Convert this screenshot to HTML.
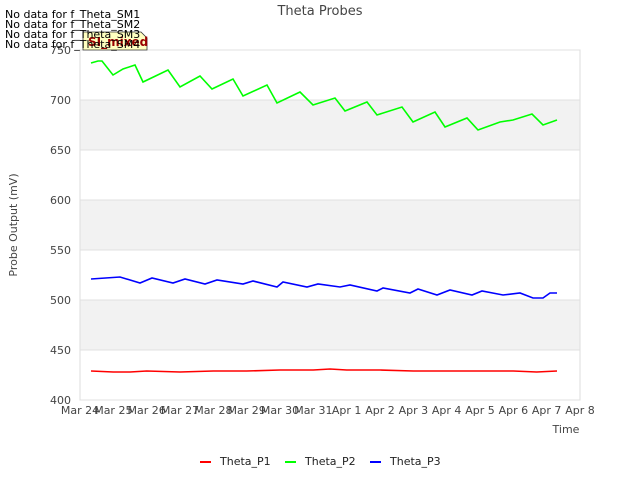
<!DOCTYPE html>
<html><head><meta charset="utf-8"><style>
body{margin:0;background:#fff;font-family:"DejaVu Sans","Liberation Sans",sans-serif;}
svg text{font-family:"DejaVu Sans","Liberation Sans",sans-serif;}
</style></head><body>
<svg id="chart" width="640" height="480" xmlns="http://www.w3.org/2000/svg">
<rect width="640" height="480" fill="#fff"/>
<g id="bands"></g>
<rect x="80" y="50" width="500" height="350" fill="none" stroke="#ddd"/>
<g id="yticks" font-size="11" fill="#444"></g>
<g id="xticks" font-size="11" fill="#444"></g>
<g id="series"></g>
<text x="320" y="15" text-anchor="middle" font-size="13" fill="#444">Theta Probes</text>
<text x="17" y="225" text-anchor="middle" font-size="11" fill="#444" transform="rotate(-90 17 225)">Probe Output (mV)</text>
<text x="566" y="433" text-anchor="middle" font-size="11" fill="#444">Time</text>
<path d="M83 32 H141 L147 38 V50 H83 Z" fill="#ffffc0" stroke="#333" stroke-width="0.8"/>
<text x="88" y="46" font-size="12" font-weight="bold" fill="#990000">SI_mixed</text>
<g font-size="11" fill="#000">
<text x="5" y="18">No data for f_Theta_SM1</text>
<text x="5" y="28">No data for f_Theta_SM2</text>
<text x="5" y="38">No data for f_Theta_SM3</text>
<text x="5" y="48">No data for f_Theta_SM4</text>
</g>
<g id="legend" font-size="11" fill="#222">
<g><line x1="200" y1="462" x2="211" y2="462" stroke="#f00" stroke-width="2"/><text x="220" y="465">Theta_P1</text></g>
<g><line x1="285" y1="462" x2="296" y2="462" stroke="#0f0" stroke-width="2"/><text x="305" y="465">Theta_P2</text></g>
<g><line x1="370" y1="462" x2="381" y2="462" stroke="#00f" stroke-width="2"/><text x="390" y="465">Theta_P3</text></g>
</g>
</svg>
<script>
const xLabels=["Mar 24","Mar 25","Mar 26","Mar 27","Mar 28","Mar 29","Mar 30","Mar 31","Apr 1","Apr 2","Apr 3","Apr 4","Apr 5","Apr 6","Apr 7","Apr 8"];
const yTicks=[400,450,500,550,600,650,700,750];
const p2Days=[0.33,0.54,0.66,0.99,1.29,1.65,1.89,2.64,3.0,3.6,3.96,4.59,4.89,5.61,5.91,6.6,6.99,7.65,7.95,8.61,8.91,9.66,9.99,10.65,10.95,11.61,11.94,12.6,12.99,13.56,13.89,14.31];
const p2Vals=[737,739,739,725,731,735,718,730,713,724,711,721,704,715,697,708,695,702,689,698,685,693,678,688,673,682,670,678,680,686,675,680];
const p3Days=[0.33,1.2,1.8,2.16,2.79,3.15,3.75,4.11,4.89,5.19,5.91,6.09,6.81,7.14,7.8,8.1,8.91,9.09,9.9,10.14,10.71,11.1,11.76,12.06,12.69,13.2,13.59,13.89,14.1,14.31];
const p3Vals=[521,523,517,522,517,521,516,520,516,519,513,518,513,516,513,515,509,512,507,511,505,510,505,509,505,507,502,502,507,507];
const p1Days=[0.33,1,1.5,2,3,4,5,6,7,7.5,8,9,10,11,12,13,13.7,14.31];
const p1Vals=[429,428,428,429,428,429,429,430,430,431,430,430,429,429,429,429,428,429];
const X0=80,X1=580,Y0=400,Y1=50,DMIN=0,DMAX=15,VMIN=400,VMAX=750;
const xs=d=>X0+(d-DMIN)/(DMAX-DMIN)*(X1-X0);
const ys=v=>Y0-(v-VMIN)/(VMAX-VMIN)*(Y0-Y1);
const NS="http://www.w3.org/2000/svg";
function mk(tag,attrs,parent){const e=document.createElementNS(NS,tag);for(const k in attrs)e.setAttribute(k,attrs[k]);parent.appendChild(e);return e;}
const bands=document.getElementById('bands');
[[450,500],[550,600],[650,700]].forEach(b=>{const r=mk('rect',{x:X0,y:ys(b[1]),width:X1-X0,height:ys(b[0])-ys(b[1]),fill:'#f2f2f2'},bands);

});
const yt=document.getElementById('yticks');
yTicks.forEach(v=>{const l=mk('line',{x1:X0,x2:X1,y1:ys(v),y2:ys(v),stroke:'#e0e0e0'},yt);


const t=mk('text',{x:X0-9,y:ys(v)+4,'text-anchor':'end'},yt);t.textContent=v;

});
const xt=document.getElementById('xticks');
xLabels.forEach((s,i)=>{const t=mk('text',{x:xs(i),y:414,'text-anchor':'middle'},xt);t.textContent=s;

});
const sg=document.getElementById('series');
function line(days,vals,color,name){const d=days.map((dd,i)=>(i?'L':'M')+xs(dd).toFixed(1)+' '+ys(vals[i]).toFixed(1)).join(' ');
const p=mk('path',{d:d,fill:'none',stroke:color,'stroke-width':1.6},sg);

}
line(p1Days,p1Vals,'#f00','series-theta-p1');
line(p2Days,p2Vals,'#0f0','series-theta-p2');
line(p3Days,p3Vals,'#00f','series-theta-p3');
</script>
</body></html>
